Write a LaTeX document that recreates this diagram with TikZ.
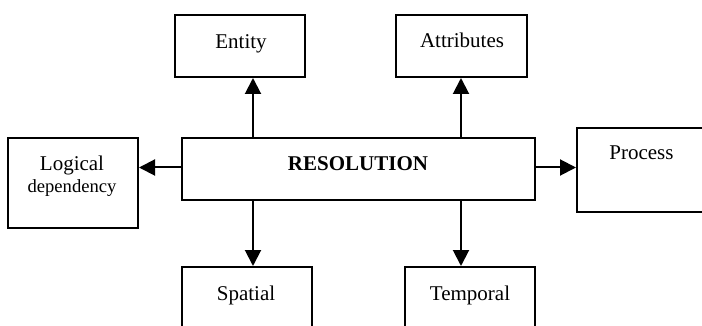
\documentclass[tikz,border=0pt]{standalone}
\usepackage{fontspec}
\setmainfont{Liberation Serif}
\usetikzlibrary{arrows.meta}
\begin{document}
\begin{tikzpicture}[x=0.5pt,y=-0.5pt,
  box/.style={draw,line width=1pt,inner sep=0pt},
  lbl/.style={anchor=base,inner sep=0pt,font=\fontsize{10.5}{12}\selectfont},
  arr/.style={line width=1pt,-{Triangle[length=8pt,width=8pt]}}]
\useasboundingbox (0,0) rectangle (702,326);
\clip (0,0) rectangle (702,326);
% boxes
\node[box,minimum width=65pt,minimum height=31pt] (ent) at (240,46) {};
\node[box,minimum width=65.5pt,minimum height=31pt] (att) at (461.5,46) {};
\node[box,minimum width=65pt,minimum height=45pt] (log) at (73,183) {};
\node[box,minimum width=176.5pt,minimum height=31pt] (res) at (358.5,169) {};
\node[box,minimum width=71pt,minimum height=42pt] (pro) at (648,170) {};
\node[box,minimum width=65pt,minimum height=36.5pt] (spa) at (247,303.5) {};
\node[box,minimum width=65pt,minimum height=36.5pt] (tem) at (470,303.5) {};
% labels
\node[lbl] (tent) at (241,49) {Entity};
\node[lbl] (tatt) at (462,48) {Attributes};
\node[lbl] (tlog1) at (72,170) {Logical};
\node[lbl,font=\fontsize{9.3}{11}\selectfont] (tlog2) at (72,192) {dependency};
\node[lbl,font=\fontsize{10.5}{12}\selectfont\bfseries] (tres) at (358,170) {RESOLUTION};
\node[lbl] (tpro) at (641.5,160) {Process};
\node[lbl] (tspa) at (246,300) {Spatial};
\node[lbl] (ttem) at (470,300) {Temporal};
% connectors
\coordinate (xl) at (253,0);
\coordinate (xr) at (461,0);
\coordinate (yh) at (0,167.5);
\draw[arr] (xl |- res.north) -- (xl |- ent.south);
\draw[arr] (xr |- res.north) -- (xr |- att.south);
\draw[arr] (xl |- res.south) -- (xl |- spa.north);
\draw[arr] (xr |- res.south) -- (xr |- tem.north);
\draw[arr] (res.west |- yh) -- (log.east |- yh);
\draw[arr] (res.east |- yh) -- (pro.west |- yh);
\end{tikzpicture}
\end{document}
